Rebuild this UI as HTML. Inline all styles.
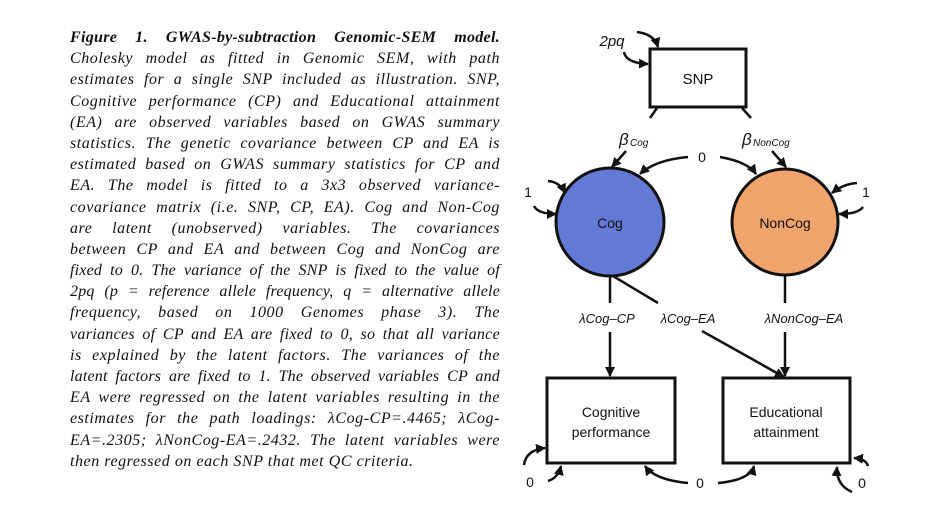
<!DOCTYPE html>
<html><head><meta charset="utf-8"><style>
body{margin:0;background:#fff;width:931px;height:512px;overflow:hidden;position:relative}
.t{position:absolute;left:70px;top:27px;width:430px;font:italic 16px/21.2px "Liberation Serif",serif;letter-spacing:0.55px;color:#111}
.t div{text-align:justify;text-align-last:justify;white-space:nowrap;height:21.2px}
.t div.l{text-align-last:left}
svg{position:absolute;left:0;top:0}
svg text{font-family:"Liberation Sans",sans-serif;fill:#111}
</style></head><body>
<div class="t">
<div style="font-weight:bold;letter-spacing:0.3px">Figure 1. GWAS-by-subtraction Genomic-SEM model.</div>
<div>Cholesky model as fitted in Genomic SEM, with path</div>
<div>estimates for a single SNP included as illustration. SNP,</div>
<div>Cognitive performance (CP) and Educational attainment</div>
<div>(EA) are observed variables based on GWAS summary</div>
<div>statistics. The genetic covariance between CP and EA is</div>
<div>estimated based on GWAS summary statistics for CP and</div>
<div>EA. The model is fitted to a 3x3 observed variance-</div>
<div>covariance matrix (i.e. SNP, CP, EA). Cog and Non-Cog</div>
<div>are latent (unobserved) variables. The covariances</div>
<div>between CP and EA and between Cog and NonCog are</div>
<div style="letter-spacing:0.2px">fixed to 0. The variance of the SNP is fixed to the value of</div>
<div style="letter-spacing:0.2px">2pq (p = reference allele frequency, q = alternative allele</div>
<div>frequency, based on 1000 Genomes phase 3). The</div>
<div style="letter-spacing:0.3px">variances of CP and EA are fixed to 0, so that all variance</div>
<div>is explained by the latent factors. The variances of the</div>
<div style="letter-spacing:0.2px">latent factors are fixed to 1. The observed variables CP and</div>
<div>EA were regressed on the latent variables resulting in the</div>
<div>estimates for the path loadings: λCog-CP=.4465; λCog-</div>
<div>EA=.2305; λNonCog-EA=.2432. The latent variables were</div>
<div class="l">then regressed on each SNP that met QC criteria.</div>
</div>
<svg width="931" height="512" viewBox="0 0 931 512">
<defs><marker id="a" viewBox="0 0 10 10" refX="9" refY="5" markerWidth="4" markerHeight="4" orient="auto"><path d="M0,0L10,5L0,10z" fill="#111"/></marker></defs>
<g stroke="#111" stroke-width="2.5" fill="none">
<rect x="650" y="49" width="96" height="58" stroke-width="3"/>
<circle cx="610" cy="222" r="54" fill="#6279d6" stroke-width="3"/>
<circle cx="785" cy="222" r="53" fill="#f0a46b" stroke-width="3"/>
<rect x="547" y="378" width="128" height="85" stroke-width="3"/>
<rect x="723" y="378" width="127" height="85" stroke-width="3"/>
<path d="M637,32 Q654,34 658,47" marker-end="url(#a)"/>
<path d="M624,52 Q626,63 648,64" marker-end="url(#a)"/>
<path d="M657,108 L650,118"/><path d="M626,151 L612,167" marker-end="url(#a)"/>
<path d="M742,108 L751,118"/><path d="M772,151 L786,167" marker-end="url(#a)"/>
<path d="M688,157 Q655,160 640,174" marker-end="url(#a)"/>
<path d="M720,157 Q748,162 756,174" marker-end="url(#a)"/>
<path d="M548,181 Q560,182 565,193" marker-end="url(#a)"/>
<path d="M534,206 Q538,214 556,214" marker-end="url(#a)"/>
<path d="M857,183 Q843,184 832,193" marker-end="url(#a)"/>
<path d="M863,207 Q858,214 839,214" marker-end="url(#a)"/>
<path d="M610,277 L610,303"/><path d="M610,332 L610,376" marker-end="url(#a)"/>
<path d="M613,276 L658,303"/><path d="M702,331 L784,377" marker-end="url(#a)"/>
<path d="M785,276 L785,303"/><path d="M785,332 L785,376" marker-end="url(#a)"/>
<path d="M524,465 Q526,450 545,448" marker-end="url(#a)"/>
<path d="M548,481 Q558,478 561,466" marker-end="url(#a)"/>
<path d="M688,483 Q655,480 645,466" marker-end="url(#a)"/>
<path d="M718,483 Q750,480 754,466" marker-end="url(#a)"/>
<path d="M852,492 Q836,485 837,467" marker-end="url(#a)"/>
<path d="M868,466 Q866,459 854,458" marker-end="url(#a)"/>
</g>
<text x="612" y="46" font-size="15" font-style="italic" text-anchor="middle">2pq</text>
<text x="698" y="84" font-size="15" text-anchor="middle">SNP</text>
<text x="619" y="145" font-size="17" font-style="italic">β</text><text x="630" y="146" font-size="10" font-style="italic">Cog</text>
<text x="742" y="145" font-size="17" font-style="italic">β</text><text x="753" y="146" font-size="10" font-style="italic">NonCog</text>
<text x="702" y="162" font-size="14" text-anchor="middle">0</text>
<text x="528" y="197" font-size="14" text-anchor="middle">1</text>
<text x="866" y="197" font-size="14" text-anchor="middle">1</text>
<text x="610" y="228" font-size="14" text-anchor="middle">Cog</text>
<text x="785" y="228" font-size="14" text-anchor="middle">NonCog</text>
<text x="607" y="323" font-size="13" font-style="italic" text-anchor="middle">λCog–CP</text>
<text x="688" y="323" font-size="13" font-style="italic" text-anchor="middle">λCog–EA</text>
<text x="804" y="323" font-size="13" font-style="italic" text-anchor="middle">λNonCog–EA</text>
<text x="611" y="417" font-size="14" text-anchor="middle">Cognitive</text>
<text x="611" y="437" font-size="14" text-anchor="middle">performance</text>
<text x="786" y="417" font-size="14" text-anchor="middle">Educational</text>
<text x="786" y="437" font-size="14" text-anchor="middle">attainment</text>
<text x="530" y="487" font-size="14" text-anchor="middle">0</text>
<text x="700" y="488" font-size="14" text-anchor="middle">0</text>
<text x="862" y="488" font-size="14" text-anchor="middle">0</text>
</svg>
</body></html>
